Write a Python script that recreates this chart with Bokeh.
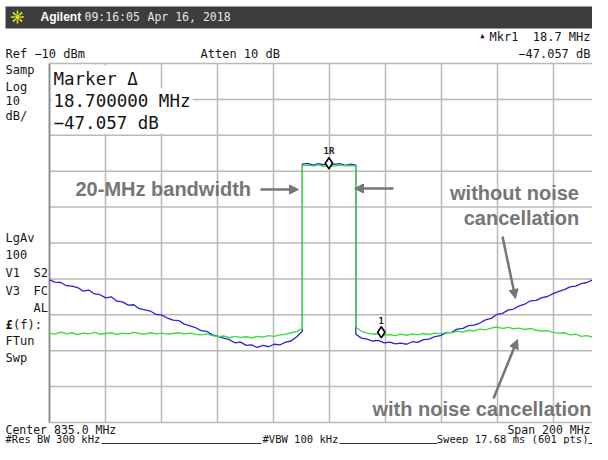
import numpy as np
from bokeh.plotting import figure
from bokeh.models import Range1d, Arrow, NormalHead
from bokeh.core.properties import value
from bokeh.embed import file_html
from bokeh.resources import INLINE

# ------------------------------------------------------------------ data
center_mhz = 835.0
span_mhz = 200.0
ref_level_dbm = -10.0
db_per_div = 10.0
n_div = 10
sig_lo_mhz = 825.3
sig_hi_mhz = 844.4

# trace "without noise cancellation" (blue), dBm
blue_left = [-70.3, -70.9, -71.0, -71.9, -72.0, -72.4, -73.4, -73.1, -74.2, -74.4,
             -75.3, -75.0, -76.2, -76.4, -77.3, -77.2, -78.3, -78.6, -79.0, -79.9,
             -80.1, -80.9, -81.5, -81.6, -82.6, -83.1, -83.6, -84.4, -84.6, -85.6,
             -86.0, -86.5, -86.9, -87.8, -87.6, -88.5, -88.4, -89.1, -88.5, -88.9,
             -88.2, -88.4, -87.6, -87.3, -86.1, -84.6]
blue_top = [-38.0, -37.8, -38.3, -37.9, -38.2, -37.7, -38.1, -37.9, -38.4, -38.0, -38.3]
blue_right = [-85.4, -86.5, -86.8, -87.3, -87.1, -87.8, -87.6, -88.1, -87.9, -88.2,
              -87.5, -87.7, -86.9, -86.8, -86.1, -85.8, -85.0, -84.9, -84.0, -83.8,
              -83.0, -82.9, -82.3, -81.4, -81.0, -79.9, -79.6, -78.7, -78.4, -77.5,
              -77.0, -76.1, -76.0, -75.2, -74.9, -74.1, -73.5, -73.0, -72.2, -72.0,
              -71.3, -71.0, -70.3, -70.1, -69.5, -69.7]

# trace "with noise cancellation" (green), dBm
green_left = [-85.1, -85.4, -84.8, -85.3, -85.0, -85.5, -85.1, -85.3, -84.9, -85.4,
              -85.2, -85.0, -85.5, -85.1, -85.3, -84.9, -85.2, -85.4, -85.0, -85.3,
              -85.1, -85.4, -85.2, -85.0, -85.3, -85.1, -85.4, -85.6, -85.3, -85.8,
              -86.1, -85.9, -86.4, -86.0, -86.3, -86.1, -86.4, -86.0, -86.2, -85.8,
              -86.0, -85.6, -85.4, -85.0, -84.7, -83.8]
green_top = [-38.5, -38.3, -38.6, -38.2, -38.7, -38.4, -38.6, -38.3, -38.5, -38.4, -38.6]
green_right = [-83.4, -84.6, -85.1, -85.4, -85.2, -85.7, -85.5, -85.8, -85.4, -85.7,
               -85.3, -85.6, -85.2, -85.5, -85.1, -85.3, -84.9, -85.0, -84.6, -84.8,
               -84.3, -84.5, -84.0, -84.2, -83.7, -83.4, -83.8, -83.5, -83.9, -83.7,
               -84.1, -83.8, -84.3, -84.5, -84.4, -84.9, -85.1, -85.0, -85.6, -85.4,
               -86.0, -85.8, -86.2, -85.7, -85.9, -85.6]

mkr_ref_freq = 834.8
mkr_ref_level = -37.8
mkr_delta_freq = 18.7
mkr_delta_db = -47.057

# ------------------------------------------------------------------ layout helpers
f_start = center_mhz - span_mhz / 2
f_stop = center_mhz + span_mhz / 2
bottom_level = ref_level_dbm - n_div * db_per_div
GX0, GY0 = 49.0, 63.0          # grid top-left in canvas pixels
PX_MHZ = 560.0 / span_mhz
PX_DB = 359.0 / (n_div * db_per_div)


def X(px):
    return f_start + (px - GX0) / PX_MHZ


def Y(py):
    return ref_level_dbm - (py - GY0) / PX_DB


W, H = 592, 444
p = figure(width=W, height=H, output_backend="svg", toolbar_location=None,
           x_axis_type=None, y_axis_type=None,
           x_range=Range1d(X(0), X(W)), y_range=Range1d(Y(H), Y(0)),
           min_border=0, min_border_left=0, min_border_right=0,
           min_border_top=0, min_border_bottom=0)
p.outline_line_color = None
p.background_fill_color = "white"
p.border_fill_color = "white"
p.xgrid.visible = False
p.ygrid.visible = False

MONO = value("DejaVu Sans Mono")
SANS = value("Liberation Sans")
GRID = "#b9b9b9"

# ------------------------------------------------------------------ header bar
p.quad(left=[X(5)], right=[X(620)], top=[Y(6)], bottom=[Y(28)],
       fill_color="#3d3d3d", line_color=None)
p.scatter(x=[X(17)], y=[Y(16.5)], marker="asterisk", size=13,
          line_color="#e0e030", line_width=1.6)
p.scatter(x=[X(17)], y=[Y(16.5)], marker="circle", size=5,
          fill_color="#e0e030", line_color="#808010")
p.text(x=[X(40)], y=[Y(16.5)], text=["Agilent"], text_font=SANS,
       text_font_style="bold", text_font_size=value("12px"),
       text_color="white", text_baseline="middle", text_align="left")
p.text(x=[X(84), X(147)], y=[Y(16.5), Y(16.5)], text=["09:16:05", "Apr 16, 2018"],
       text_font=MONO, text_font_size=value("11.5px"), text_color="#e6e6e6",
       text_baseline="middle", text_align="left")

# ------------------------------------------------------------------ graticule
vx = [f_start + k * span_mhz / n_div for k in range(n_div + 1)]
vtop = [ref_level_dbm] * len(vx)
p.segment(x0=vx[1:], y0=[bottom_level] * n_div, x1=vx[1:], y1=vtop[1:],
          line_color=GRID, line_width=1.5)
hy = [bottom_level + k * db_per_div for k in range(n_div + 1)]
p.segment(x0=[f_start] * len(hy), y0=hy, x1=[f_stop] * len(hy), y1=hy,
          line_color=GRID, line_width=1.5)
p.segment(x0=[f_start], y0=[bottom_level], x1=[f_start], y1=[ref_level_dbm],
          line_color="#8f8f8f", line_width=2)

# marker read-out background
p.quad(left=[X(51)], right=[X(136)], top=[Y(65)], bottom=[Y(89)],
       fill_color="white", line_color=None)
p.quad(left=[X(51)], right=[X(192)], top=[Y(88)], bottom=[Y(133)],
       fill_color="white", line_color=None)

# ------------------------------------------------------------------ traces
def trace(left, top, right):
    f = np.concatenate([np.linspace(f_start, sig_lo_mhz, len(left)),
                        np.linspace(sig_lo_mhz, sig_hi_mhz, len(top)),
                        np.linspace(sig_hi_mhz, f_stop, len(right))])
    v = np.array(left + top + right, dtype=float)
    return f, v


bf, bv = trace(blue_left, blue_top, blue_right)
gf, gv = trace(green_left, green_top, green_right)
p.line(bf, bv, line_color="#2626d6", line_width=1.3)
p.line(gf, gv, line_color="#3fdc3f", line_width=1.4)

# markers
mx = [mkr_ref_freq, mkr_ref_freq + mkr_delta_freq]
my = [mkr_ref_level, mkr_ref_level + mkr_delta_db]
p.scatter(x=mx, y=my, marker="diamond", size=11, fill_color="white",
          line_color="black", line_width=1.6)
p.text(x=mx, y=my, text=["1R", "1"], y_offset=-12, text_font=MONO,
       text_font_size=value("9px"), text_font_style="bold", text_color="#222",
       text_align="center", text_baseline="middle")

# ------------------------------------------------------------------ instrument texts
def txt(items, size, align="left", color="#151515", font=MONO, style="normal"):
    p.text(x=[X(a) for a, b, c in items], y=[Y(b) for a, b, c in items],
           text=[c for a, b, c in items], text_font=font, text_font_size=value(size),
           text_font_style=style, text_color=color, text_align=align,
           text_baseline="middle")


txt([(5, 53, "Ref −10 dBm"), (200, 53, "Atten 10 dB"),
     (5, 69, "Samp"), (5, 86, "Log"), (5, 100, "10"), (5, 115, "dB/"),
     (5, 237, "LgAv"), (5, 254, "100"), (5, 272, "V1"), (33, 272, "S2"),
     (5, 290, "V3"), (33, 290, "FC"), (33, 307, "AL"), (5, 340, "FTun"),
     (5, 357, "Swp")], "12px")
txt([(5, 324, "£")], "12px", style="bold")
txt([(12.5, 324, "(f):")], "12px")
txt([(5, 429.5, "Center %.1f MHz" % center_mhz)], "11.5px")
txt([(489, 36, "Mkr1")], "12px")
txt([(590, 36, "%.1f MHz" % mkr_delta_freq),
     (590, 53, ("%.3f dB" % mkr_delta_db).replace("-", "−"))], "12px", align="right")
txt([(484, 35.5, "▲")], "7px", align="right")
txt([(590, 429.5, "Span %d MHz" % span_mhz)], "11.5px", align="right")
txt([(5, 438.5, "#Res BW 300 kHz"), (262, 438.5, "#VBW 100 kHz")], "10.5px")
txt([(588, 438.5, "Sweep 17.68 ms (601 pts)")], "10.5px", align="right")
p.segment(x0=[X(101), X(339), X(588)], y0=[Y(443)] * 3,
          x1=[X(261), X(437), X(600)], y1=[Y(443)] * 3,
          line_color="#333333", line_width=1)

txt([(53, 78, "Marker Δ"),
     (53, 100, "%.6f MHz" % mkr_delta_freq),
     (53, 122, ("%.3f dB" % mkr_delta_db).replace("-", "−"))], "17.5px")

# ------------------------------------------------------------------ annotations
ANN = "#767676"
txt([(75, 188, "20-MHz bandwidth"), (372, 408, "with noise cancellation")],
    "20px", color=ANN, font=SANS, style="bold")
txt([(514, 192, "without noise"), (521, 217, "cancellation")],
    "20px", align="center", color=ANN, font=SANS, style="bold")

for (x0, y0, x1, y1) in [(260, 189, 298, 189), (393, 188, 354, 188),
                         (502, 236, 515, 298), (493, 398, 517, 339)]:
    p.add_layout(Arrow(end=NormalHead(size=9, fill_color=ANN, line_color=ANN),
                       x_start=X(x0), y_start=Y(y0), x_end=X(x1), y_end=Y(y1),
                       line_color=ANN, line_width=2.5))

open("out.html", "w").write(file_html(p, INLINE))
